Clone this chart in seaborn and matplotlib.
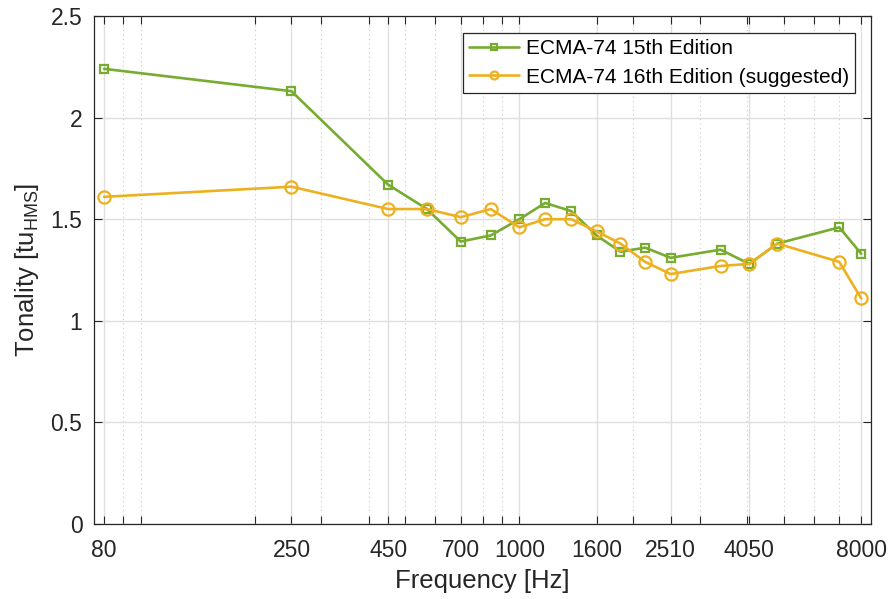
import numpy as np
import pandas as pd
import matplotlib
matplotlib.use("Agg")
import matplotlib.pyplot as plt
import seaborn as sns
from matplotlib.ticker import LogLocator, NullFormatter, FixedLocator, FixedFormatter

# ---- data ----
freq = [80, 250, 450, 570, 700, 840, 1000, 1170, 1370, 1600, 1850, 2150, 2510, 3400, 4050, 4800, 7000, 8000]
ed15 = [2.24, 2.13, 1.67, 1.55, 1.39, 1.42, 1.50, 1.58, 1.54, 1.42, 1.34, 1.36, 1.31, 1.35, 1.28, 1.38, 1.46, 1.33]
ed16 = [1.61, 1.66, 1.55, 1.55, 1.51, 1.55, 1.46, 1.50, 1.50, 1.44, 1.38, 1.29, 1.23, 1.27, 1.28, 1.38, 1.29, 1.11]
series_labels = ["ECMA-74 15th Edition", "ECMA-74 16th Edition (suggested)"]
xticks = [80, 250, 450, 700, 1000, 1600, 2510, 4050, 8000]
xtick_labels = ["80", "250", "450", "700", "1000", "1600", "2510", "4050", "8000"]
yticks = [0, 0.5, 1, 1.5, 2, 2.5]
ytick_labels = ["0", "0.5", "1", "1.5", "2", "2.5"]

sns.set_theme(style="white")
plt.rcParams["font.family"] = ["Liberation Sans", "DejaVu Sans"]
plt.rcParams["mathtext.fontset"] = "custom"
plt.rcParams["mathtext.rm"] = "Liberation Sans"
plt.rcParams["mathtext.it"] = "Liberation Sans:italic"

fig = plt.figure(figsize=(8.89, 5.99), dpi=100)
ax = fig.add_axes([93.5 / 889, 1 - 524 / 599, (871 - 93.5) / 889, (524 - 16) / 599])
ax.set_xscale("log")

green = "#77AC30"
yellow = "#EDB120"

df15 = pd.DataFrame({"f": freq, "v": ed15})
df16 = pd.DataFrame({"f": freq, "v": ed16})

sns.lineplot(data=df15, x="f", y="v", ax=ax, color=green, linewidth=1.9,
             marker="s", markersize=6.4, markerfacecolor="none",
             markeredgecolor=green, markeredgewidth=1.6, label=series_labels[0], zorder=3)
sns.lineplot(data=df16, x="f", y="v", ax=ax, color=yellow, linewidth=1.9,
             marker="o", markersize=8.8, markerfacecolor="none",
             markeredgecolor=yellow, markeredgewidth=1.6, label=series_labels[1], zorder=3)

ax.set_xlim(75, 8490)
ax.set_ylim(0, 2.5)

ax.xaxis.set_major_locator(FixedLocator(xticks))
ax.xaxis.set_major_formatter(FixedFormatter(xtick_labels))
ax.xaxis.set_minor_locator(LogLocator(base=10, subs=np.arange(1, 10)))
ax.xaxis.set_minor_formatter(NullFormatter())
ax.set_yticks(yticks)
ax.set_yticklabels(ytick_labels)

ax.grid(True, which="major", axis="both", color="#dfdfdf", linewidth=1.0, linestyle="-")
ax.grid(True, which="minor", axis="x", color="#c8c8c8", linewidth=0.8, linestyle=(0, (1, 3)))
ax.set_axisbelow(True)

tick_color = "#262626"
ax.tick_params(axis="x", which="major", direction="in", length=5.5, width=0.8,
               top=True, bottom=True, labelsize=16.5, colors=tick_color, pad=11)
ax.tick_params(axis="y", which="major", direction="in", length=5.5, width=0.8,
               left=True, right=True, labelsize=16.5, colors=tick_color, pad=8)
ax.tick_params(axis="x", which="minor", direction="in", length=5.5, width=0.8,
               top=True, bottom=True, colors=tick_color)
for s in ax.spines.values():
    s.set_color(tick_color)
    s.set_linewidth(0.9)

ax.set_xlabel("Frequency [Hz]", fontsize=18.5, color=tick_color, labelpad=5)
ax.set_ylabel("Tonality [tu$_{\\mathrm{HMS}}$]", fontsize=18.5, color=tick_color, labelpad=7)

leg = ax.legend(loc="upper right", bbox_to_anchor=(0.9794, 0.9665), fontsize=15,
                frameon=True, fancybox=False, edgecolor="#262626", framealpha=1,
                handlelength=2.4, handletextpad=0.3, borderpad=0.3, labelspacing=0.45,
                markerscale=0.65, borderaxespad=0)
leg.get_frame().set_linewidth(0.9)
for t in leg.get_texts():
    t.set_color("#000000")

fig.savefig("out.png", dpi=100)
